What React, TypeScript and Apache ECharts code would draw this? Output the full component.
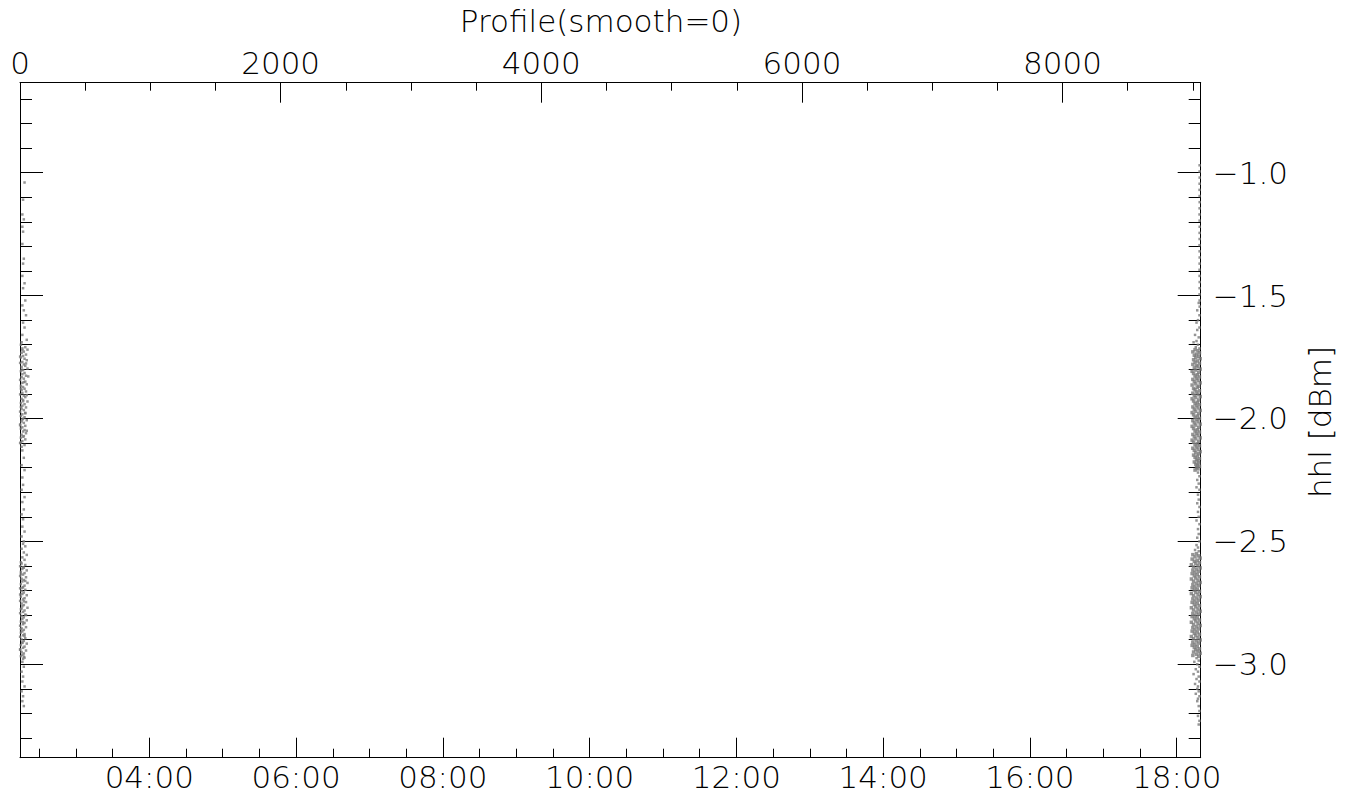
import React, { useEffect, useRef } from "react";
import * as echarts from "echarts";

// ---- axis ranges ----
const TIME_MIN = 2.238;
const TIME_MAX = 18.327;
const PROFILE_MIN = 0;
const PROFILE_MAX = 9060;
const VALUE_MIN = -3.38;
const VALUE_MAX = -0.634;

// ---- tick values ----
const timeMajorTicks = [4, 6, 8, 10, 12, 14, 16, 18];
const timeMinorTicks = [2.5, 3, 3.5, 4.5, 5, 5.5, 6.5, 7, 7.5, 8.5, 9, 9.5, 10.5, 11, 11.5, 12.5, 13, 13.5, 14.5, 15, 15.5, 16.5, 17, 17.5];
const profileMajorTicks = [0, 2000, 4000, 6000, 8000];
const profileMinorTicks = [500, 1000, 1500, 2500, 3000, 3500, 4500, 5000, 5500, 6500, 7000, 7500, 8500, 9000];
const valueMajorTicks = [-1.0, -1.5, -2.0, -2.5, -3.0];
const valueMinorTicks = [-0.7, -0.8, -0.9, -1.1, -1.2, -1.3, -1.4, -1.6, -1.7, -1.8, -1.9, -2.1, -2.2, -2.3, -2.4, -2.6, -2.7, -2.8, -2.9, -3.1, -3.2, -3.3];

// ---- data: [time (hours), hhl (dBm)] ----
const leftSparseTop = [
  [2.30, -1.04], [2.28, -1.11], [2.27, -1.17], [2.29, -1.19], [2.27, -1.22], [2.28, -1.24], [2.27, -1.29],
  [2.29, -1.35], [2.28, -1.37], [2.27, -1.42], [2.30, -1.45], [2.28, -1.47], [2.31, -1.52], [2.27, -1.54],
  [2.29, -1.56], [2.32, -1.58], [2.28, -1.61], [2.30, -1.63], [2.27, -1.66], [2.33, -1.68], [2.26, -1.69],
];
const leftBandUpper = [
  [2.25, -1.70], [2.31, -1.71], [2.27, -1.715], [2.34, -1.72], [2.29, -1.728], [2.26, -1.733], [2.32, -1.74],
  [2.28, -1.746], [2.25, -1.752], [2.30, -1.757], [2.33, -1.763], [2.27, -1.77], [2.24, -1.774], [2.29, -1.78],
  [2.31, -1.786], [2.26, -1.79], [2.34, -1.797], [2.28, -1.803], [2.25, -1.808], [2.30, -1.815], [2.27, -1.82],
  [2.32, -1.826], [2.26, -1.832], [2.29, -1.838], [2.24, -1.843], [2.31, -1.85], [2.27, -1.855], [2.33, -1.861],
  [2.25, -1.867], [2.28, -1.872], [2.30, -1.879], [2.26, -1.884], [2.32, -1.89], [2.27, -1.896], [2.24, -1.902],
  [2.29, -1.907], [2.31, -1.913], [2.26, -1.92], [2.28, -1.925], [2.34, -1.931], [2.25, -1.937], [2.30, -1.942],
  [2.27, -1.948], [2.32, -1.955], [2.26, -1.96], [2.29, -1.966], [2.24, -1.972], [2.31, -1.977], [2.27, -1.983],
  [2.25, -1.99], [2.30, -1.995], [2.28, -2.001], [2.33, -2.007], [2.26, -2.012], [2.29, -2.018], [2.24, -2.024],
  [2.31, -2.03], [2.27, -2.036], [2.25, -2.041], [2.30, -2.047], [2.28, -2.053], [2.32, -2.06], [2.26, -2.066],
  [2.29, -2.072], [2.25, -2.078], [2.31, -2.085], [2.27, -2.092], [2.24, -2.1], [2.30, -2.108], [2.26, -2.115],
  [2.27, -1.722], [2.24, -1.748], [2.32, -1.776], [2.26, -1.801], [2.35, -1.829], [2.29, -1.852], [2.25, -1.878],
  [2.33, -1.905], [2.28, -1.93], [2.25, -1.953], [2.31, -1.979], [2.27, -2.004], [2.24, -2.028], [2.33, -2.05],
  [2.28, -2.074], [2.25, -2.097],
];
const leftSparseMid = [
  [2.27, -2.13], [2.29, -2.16], [2.26, -2.19], [2.30, -2.21], [2.27, -2.24], [2.28, -2.27], [2.26, -2.29],
  [2.30, -2.32], [2.27, -2.34], [2.29, -2.37], [2.26, -2.39], [2.28, -2.41], [2.27, -2.44], [2.30, -2.46],
  [2.26, -2.48], [2.29, -2.50], [2.28, -2.51], [2.31, -2.52], [2.26, -2.53], [2.29, -2.545], [2.33, -2.555],
  [2.27, -2.565], [2.30, -2.575], [2.25, -2.585],
];
const leftBandLower = [
  [2.26, -2.59], [2.31, -2.596], [2.24, -2.601], [2.29, -2.607], [2.27, -2.612], [2.33, -2.618], [2.25, -2.624],
  [2.30, -2.629], [2.28, -2.635], [2.24, -2.641], [2.32, -2.646], [2.26, -2.652], [2.29, -2.657], [2.27, -2.663],
  [2.34, -2.669], [2.25, -2.674], [2.30, -2.68], [2.28, -2.686], [2.24, -2.691], [2.31, -2.697], [2.26, -2.702],
  [2.29, -2.708], [2.27, -2.714], [2.33, -2.719], [2.25, -2.725], [2.30, -2.731], [2.28, -2.736], [2.24, -2.742],
  [2.32, -2.747], [2.26, -2.753], [2.29, -2.759], [2.27, -2.764], [2.34, -2.77], [2.25, -2.776], [2.30, -2.781],
  [2.28, -2.787], [2.24, -2.792], [2.31, -2.798], [2.26, -2.804], [2.29, -2.809], [2.27, -2.815], [2.33, -2.821],
  [2.25, -2.826], [2.30, -2.832], [2.28, -2.837], [2.24, -2.843], [2.32, -2.849], [2.26, -2.854], [2.29, -2.86],
  [2.27, -2.866], [2.25, -2.871], [2.30, -2.877], [2.28, -2.882], [2.24, -2.888], [2.31, -2.894], [2.26, -2.899],
  [2.29, -2.905], [2.27, -2.911], [2.33, -2.916], [2.25, -2.922], [2.30, -2.928], [2.28, -2.933], [2.24, -2.939],
  [2.32, -2.944], [2.26, -2.95], [2.29, -2.956], [2.27, -2.961], [2.25, -2.967], [2.30, -2.973], [2.28, -2.978],
  [2.28, -2.605], [2.25, -2.633], [2.31, -2.661], [2.27, -2.689], [2.24, -2.716], [2.29, -2.744], [2.26, -2.773],
  [2.32, -2.8], [2.28, -2.828], [2.25, -2.857], [2.30, -2.885], [2.27, -2.913], [2.24, -2.941], [2.29, -2.969],
];
const leftSparseBottom = [
  [2.27, -2.99], [2.29, -3.01], [2.26, -3.03], [2.28, -3.05], [2.27, -3.07], [2.30, -3.09], [2.26, -3.11],
  [2.28, -3.13], [2.27, -3.15], [2.29, -3.17],
];

const rightEdgeLine = [
  [18.312, -0.97], [18.312, -0.995], [18.313, -1.02], [18.312, -1.045], [18.311, -1.07], [18.312, -1.095],
  [18.313, -1.12], [18.312, -1.145], [18.311, -1.17], [18.312, -1.195], [18.313, -1.22], [18.312, -1.245],
  [18.312, -1.27], [18.311, -1.295], [18.312, -1.32], [18.313, -1.345], [18.312, -1.37], [18.311, -1.395],
  [18.312, -1.42], [18.313, -1.445], [18.312, -1.47], [18.311, -1.495], [18.312, -1.52], [18.313, -1.545],
];
const rightSparseTop = [
  [18.30, -1.53], [18.28, -1.56], [18.31, -1.58], [18.29, -1.6], [18.27, -1.61], [18.31, -1.63], [18.28, -1.64],
  [18.25, -1.66], [18.30, -1.67], [18.27, -1.685], [18.23, -1.69], [18.29, -1.70], [18.26, -1.71], [18.31, -1.715],
];
const rightBandUpper = [
  [18.25, -1.72], [18.29, -1.724], [18.22, -1.729], [18.31, -1.733], [18.27, -1.738], [18.24, -1.743], [18.30, -1.747],
  [18.26, -1.752], [18.32, -1.757], [18.23, -1.761], [18.28, -1.766], [18.25, -1.771], [18.31, -1.775], [18.22, -1.78],
  [18.27, -1.785], [18.29, -1.789], [18.24, -1.794], [18.32, -1.799], [18.26, -1.803], [18.21, -1.808], [18.30, -1.813],
  [18.23, -1.817], [18.28, -1.822], [18.25, -1.827], [18.31, -1.831], [18.27, -1.836], [18.22, -1.841], [18.29, -1.845],
  [18.24, -1.85], [18.32, -1.855], [18.26, -1.859], [18.21, -1.864], [18.30, -1.869], [18.28, -1.873], [18.23, -1.878],
  [18.25, -1.883], [18.31, -1.887], [18.27, -1.892], [18.22, -1.897], [18.29, -1.901], [18.24, -1.906], [18.32, -1.911],
  [18.26, -1.915], [18.21, -1.92], [18.30, -1.925], [18.23, -1.929], [18.28, -1.934], [18.25, -1.939], [18.31, -1.943],
  [18.27, -1.948], [18.22, -1.953], [18.29, -1.957], [18.24, -1.962], [18.32, -1.967], [18.26, -1.971], [18.21, -1.976],
  [18.30, -1.981], [18.23, -1.985], [18.28, -1.99], [18.25, -1.995], [18.31, -1.999], [18.27, -2.004], [18.22, -2.009],
  [18.29, -2.013], [18.24, -2.018], [18.32, -2.023], [18.26, -2.027], [18.21, -2.032], [18.30, -2.037], [18.23, -2.041],
  [18.28, -2.046], [18.25, -2.051], [18.31, -2.055], [18.27, -2.06], [18.22, -2.065], [18.29, -2.069], [18.24, -2.074],
  [18.32, -2.079], [18.26, -2.083], [18.21, -2.088], [18.30, -2.093], [18.23, -2.097], [18.28, -2.102], [18.25, -2.107],
  [18.31, -2.111], [18.27, -2.116], [18.22, -2.121], [18.29, -2.125], [18.24, -2.13], [18.32, -2.135], [18.26, -2.139],
  [18.30, -2.144], [18.23, -2.149], [18.28, -2.153], [18.25, -2.158], [18.31, -2.163], [18.27, -2.167], [18.29, -2.172],
  [18.24, -2.177], [18.30, -2.181], [18.26, -2.186], [18.28, -2.19], [18.31, -2.195], [18.27, -2.2], [18.29, -2.205],
  [18.25, -2.21],
];
const rightSparseMid = [
  [18.29, -2.22], [18.31, -2.235], [18.28, -2.25], [18.30, -2.265], [18.27, -2.28], [18.31, -2.29], [18.29, -2.31],
  [18.30, -2.33], [18.28, -2.345], [18.31, -2.36], [18.29, -2.38], [18.30, -2.40], [18.27, -2.415], [18.31, -2.43],
  [18.29, -2.45], [18.30, -2.47], [18.28, -2.485], [18.31, -2.50], [18.27, -2.515], [18.29, -2.525], [18.25, -2.535],
  [18.30, -2.54],
];
const rightBandLower = [
  [18.27, -2.55], [18.22, -2.554], [18.30, -2.559], [18.25, -2.563], [18.32, -2.568], [18.21, -2.572], [18.28, -2.577],
  [18.24, -2.581], [18.31, -2.586], [18.26, -2.59], [18.20, -2.595], [18.29, -2.599], [18.23, -2.604], [18.32, -2.608],
  [18.27, -2.613], [18.22, -2.617], [18.30, -2.622], [18.25, -2.626], [18.21, -2.631], [18.28, -2.635], [18.24, -2.64],
  [18.31, -2.644], [18.26, -2.649], [18.20, -2.653], [18.29, -2.658], [18.23, -2.662], [18.32, -2.667], [18.27, -2.671],
  [18.22, -2.676], [18.30, -2.68], [18.25, -2.685], [18.21, -2.689], [18.28, -2.694], [18.24, -2.698], [18.31, -2.703],
  [18.26, -2.707], [18.20, -2.712], [18.29, -2.716], [18.23, -2.721], [18.32, -2.725], [18.27, -2.73], [18.22, -2.734],
  [18.30, -2.739], [18.25, -2.743], [18.21, -2.748], [18.28, -2.752], [18.24, -2.757], [18.31, -2.761], [18.26, -2.766],
  [18.20, -2.77], [18.29, -2.775], [18.23, -2.779], [18.32, -2.784], [18.27, -2.788], [18.22, -2.793], [18.30, -2.797],
  [18.25, -2.802], [18.21, -2.806], [18.28, -2.811], [18.24, -2.815], [18.31, -2.82], [18.26, -2.824], [18.20, -2.829],
  [18.29, -2.833], [18.23, -2.838], [18.32, -2.842], [18.27, -2.847], [18.22, -2.851], [18.30, -2.856], [18.25, -2.86],
  [18.21, -2.865], [18.28, -2.869], [18.24, -2.874], [18.31, -2.878], [18.26, -2.883], [18.20, -2.887], [18.29, -2.892],
  [18.23, -2.896], [18.32, -2.901], [18.27, -2.905], [18.22, -2.91], [18.30, -2.914], [18.25, -2.919], [18.21, -2.923],
  [18.28, -2.928], [18.24, -2.932], [18.31, -2.937], [18.26, -2.941], [18.29, -2.946], [18.23, -2.95], [18.32, -2.955],
  [18.27, -2.959], [18.22, -2.964], [18.30, -2.968],
];
const rightSparseBottom = [
  [18.27, -2.975], [18.30, -2.985], [18.24, -2.99], [18.28, -3.0], [18.31, -3.01], [18.26, -3.02], [18.29, -3.03],
  [18.23, -3.04], [18.30, -3.05], [18.27, -3.06], [18.31, -3.07], [18.25, -3.08], [18.29, -3.09], [18.28, -3.1],
  [18.30, -3.11], [18.26, -3.12], [18.31, -3.13], [18.29, -3.14], [18.28, -3.15], [18.30, -3.17], [18.31, -3.19],
  [18.29, -3.21], [18.31, -3.23], [18.30, -3.245],
];

const TITLE = "Profile(smooth=0)";
const Y_NAME = "hhl [dBm]";

const FONT = "DejaVu Sans";
const FONT_WEIGHT = 200;
const FONT_SIZE = 31;

function fmtTime(v: number): string {
  const h = Math.floor(v + 1e-9);
  const m = Math.round((v - h) * 60);
  return String(h).padStart(2, "0") + ":" + String(m).padStart(2, "0");
}
function fmtValue(v: number): string {
  return (v < 0 ? "\u2212" : "") + Math.abs(v).toFixed(1);
}
function fmtProfile(v: number): string {
  return String(Math.round(v));
}

const labelStyle = {
  fontFamily: FONT,
  fontWeight: FONT_WEIGHT,
  fontSize: FONT_SIZE,
  color: "#000",
};

function axisBase(min: number, max: number, position: string, ticks: number[], len: number, showLine: boolean) {
  return {
    type: "value",
    min,
    max,
    position,
    axisLine: { show: showLine, onZero: false, lineStyle: { color: "#000", width: 1 } },
    axisTick: { show: true, inside: true, length: len, customValues: ticks, lineStyle: { color: "#000", width: 1 } },
    axisLabel: { show: false },
    splitLine: { show: false },
  };
}

export default function App() {
  const ref = useRef<HTMLDivElement>(null);
  useEffect(() => {
    if (!ref.current) return;
    const chart = echarts.init(ref.current, null, { renderer: "svg" });
    const sparse = [
      ...leftSparseTop, ...leftSparseMid, ...leftSparseBottom,
      ...rightEdgeLine, ...rightSparseTop, ...rightSparseMid, ...rightSparseBottom,
    ];
    const leftDense = [...leftBandUpper, ...leftBandLower];
    const rightDense = [...rightBandUpper, ...rightBandLower];
    const xBottomMajor: any = axisBase(TIME_MIN, TIME_MAX, "bottom", timeMajorTicks, 20, true);
    xBottomMajor.axisLabel = { show: true, customValues: timeMajorTicks, formatter: fmtTime, margin: 4, ...labelStyle };
    const xBottomMinor: any = axisBase(TIME_MIN, TIME_MAX, "bottom", timeMinorTicks, 9, false);
    const xTopMajor: any = axisBase(PROFILE_MIN, PROFILE_MAX, "top", profileMajorTicks, 20, true);
    xTopMajor.axisLabel = { show: true, customValues: profileMajorTicks, formatter: fmtProfile, margin: 4, ...labelStyle };
    const xTopMinor: any = axisBase(PROFILE_MIN, PROFILE_MAX, "top", profileMinorTicks, 8, false);
    const yRightMajor: any = axisBase(VALUE_MIN, VALUE_MAX, "right", valueMajorTicks, 23, true);
    yRightMajor.axisLabel = { show: true, customValues: valueMajorTicks, formatter: fmtValue, margin: 12, ...labelStyle };
    const yRightMinor: any = axisBase(VALUE_MIN, VALUE_MAX, "right", valueMinorTicks, 12, false);
    const yLeftMajor: any = axisBase(VALUE_MIN, VALUE_MAX, "left", valueMajorTicks, 23, true);
    const yLeftMinor: any = axisBase(VALUE_MIN, VALUE_MAX, "left", valueMinorTicks, 12, false);

    const scatterBase = { type: "scatter", xAxisIndex: 0, yAxisIndex: 0, symbol: "rect", itemStyle: { color: "#7a7a7a" } };

    chart.setOption({
      animation: false,
      backgroundColor: "#fff",
      grid: { left: 20, right: 153.3, top: 82.7, bottom: 39.3, containLabel: false },
      xAxis: [xBottomMajor, xBottomMinor, xTopMajor, xTopMinor],
      yAxis: [yRightMajor, yRightMinor, yLeftMajor, yLeftMinor],
      graphic: [
        {
          type: "text",
          x: 601,
          y: 21,
          style: { text: TITLE, fontFamily: FONT, fontWeight: FONT_WEIGHT, fontSize: FONT_SIZE, fill: "#000", align: "center", verticalAlign: "middle" },
        },
        {
          type: "text",
          x: 1320,
          y: 422,
          rotation: Math.PI / 2,
          style: { text: Y_NAME, fontFamily: FONT, fontWeight: FONT_WEIGHT, fontSize: FONT_SIZE, fill: "#000", align: "center", verticalAlign: "middle" },
        },
      ],
      series: [
        { ...scatterBase, symbolSize: 2.5, data: sparse },
        { ...scatterBase, symbolSize: 2.5, data: leftDense },
        { ...scatterBase, symbolSize: 3.5, data: rightDense },
      ],
    });
    return () => chart.dispose();
  }, []);
  return <div ref={ref} style={{ position: "fixed", left: 0, top: 0, width: 1354, height: 797 }} />;
}
